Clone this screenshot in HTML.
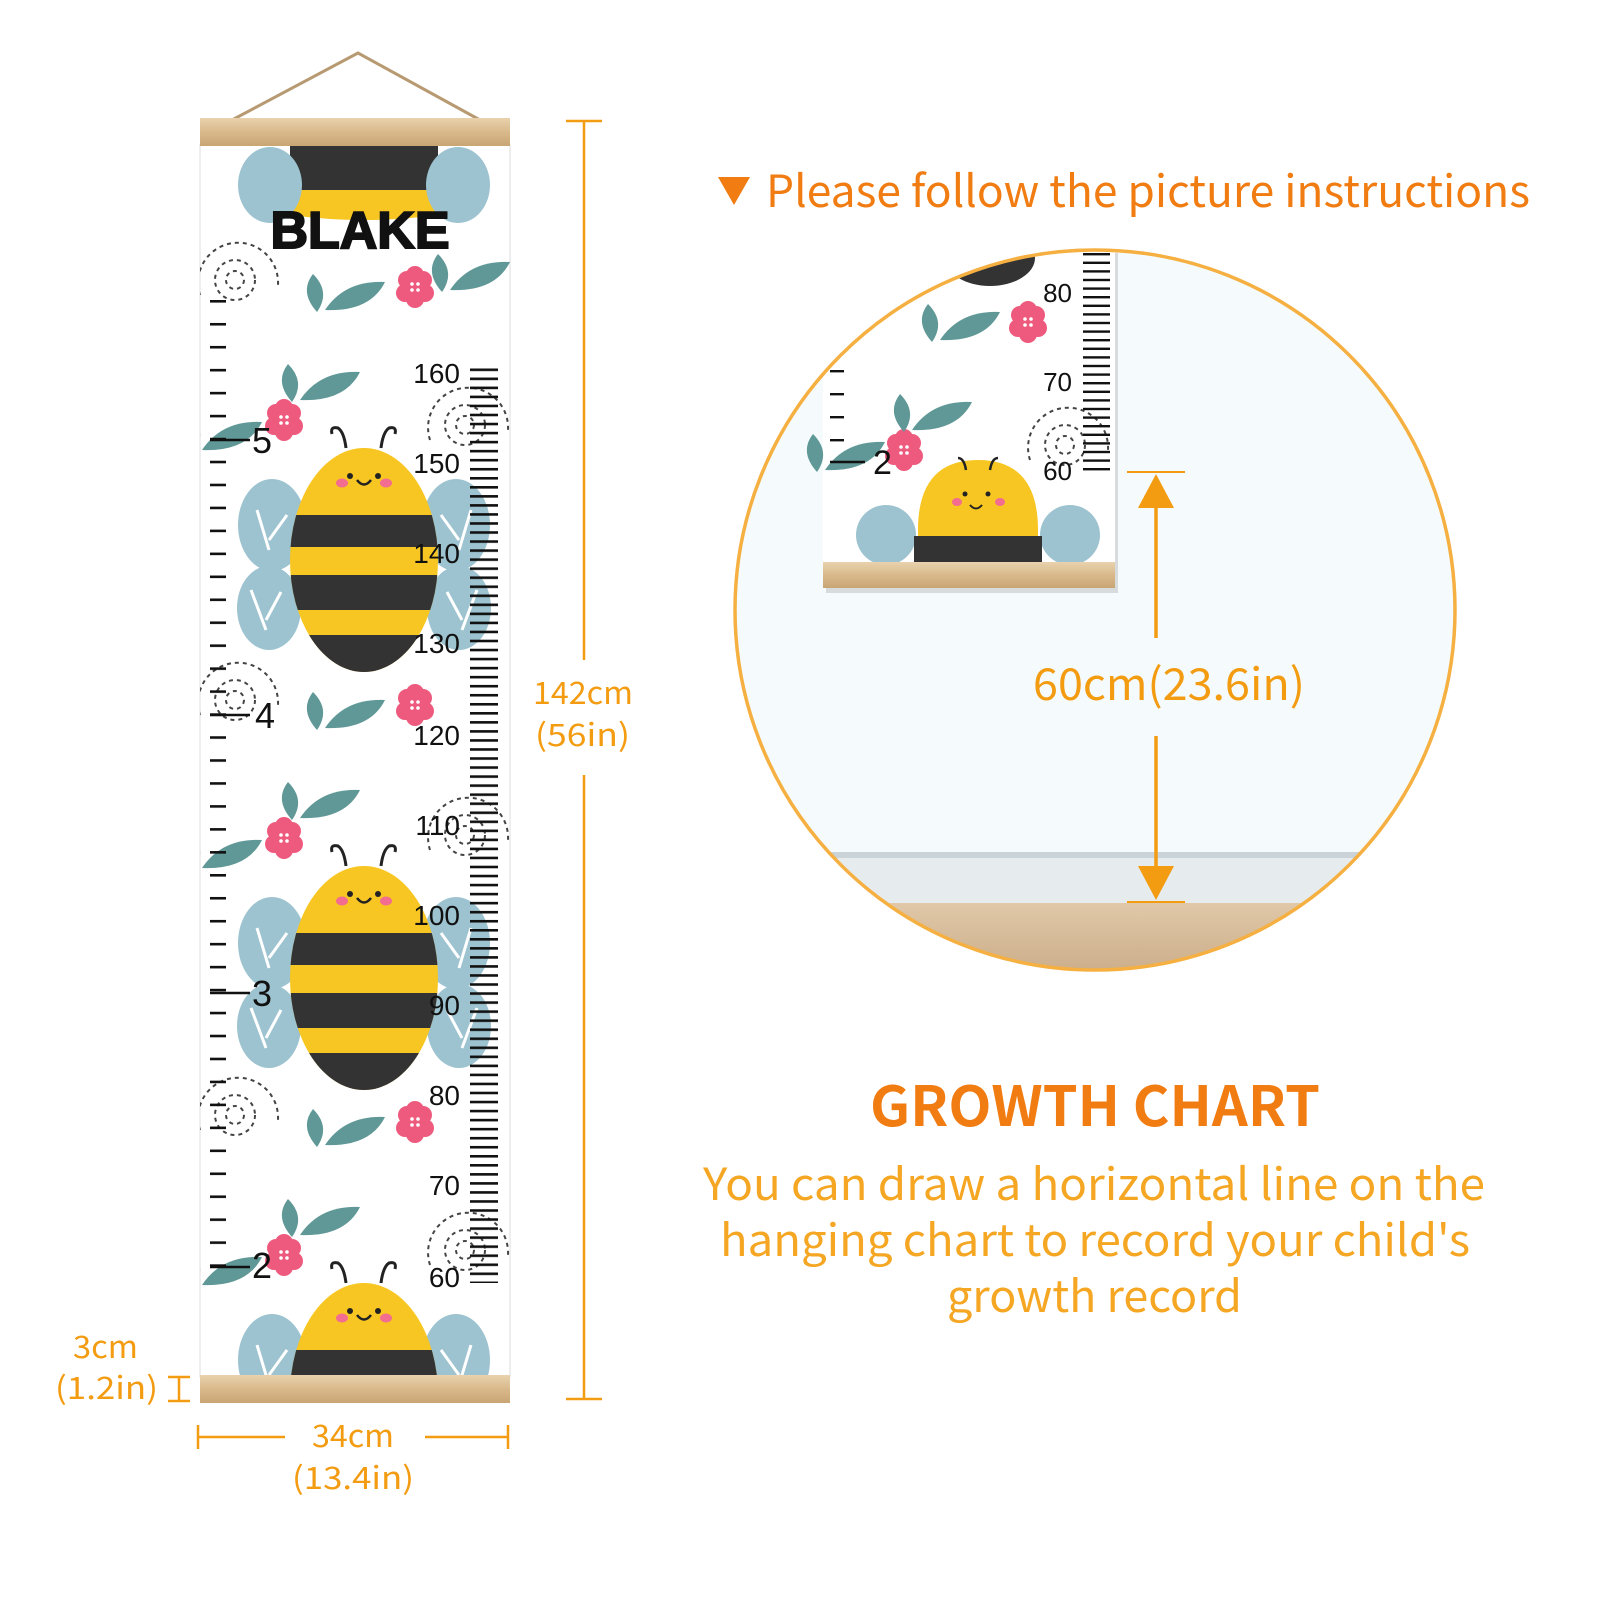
<!DOCTYPE html>
<html><head><meta charset="utf-8"><style>
html,body{margin:0;padding:0;background:#fff}
svg{display:block}
.o{font-family:"Noto Sans CJK SC","Liberation Sans",sans-serif}
</style></head><body>
<svg width="1600" height="1600" viewBox="0 0 1600 1600" xmlns="http://www.w3.org/2000/svg" font-family="Liberation Sans, sans-serif">
<defs>
<pattern id="cmT" x="0" y="368.5" width="40" height="9.04" patternUnits="userSpaceOnUse"><rect x="0" y="0" width="40" height="2.6" fill="#111"/></pattern>
<pattern id="inT" x="0" y="300" width="40" height="22.96" patternUnits="userSpaceOnUse"><rect x="0" y="0" width="40" height="2.6" fill="#111"/></pattern>
<pattern id="cmT2" x="0" y="253" width="40" height="8.6" patternUnits="userSpaceOnUse"><rect x="0" y="0" width="40" height="2.4" fill="#111"/></pattern>
<pattern id="inT2" x="0" y="370" width="40" height="23" patternUnits="userSpaceOnUse"><rect x="0" y="0" width="40" height="2.4" fill="#111"/></pattern>
<linearGradient id="wood" x1="0" y1="0" x2="0" y2="1"><stop offset="0" stop-color="#e9d2ad"/><stop offset="0.5" stop-color="#d9b98b"/><stop offset="1" stop-color="#c9a574"/></linearGradient>
<linearGradient id="floor" x1="0" y1="0" x2="0" y2="1"><stop offset="0" stop-color="#e0c8a8"/><stop offset="1" stop-color="#c9aa86"/></linearGradient>
<clipPath id="bodyc"><ellipse cx="0" cy="0" rx="74" ry="112"/></clipPath>
<clipPath id="chartc"><rect x="200" y="146" width="310" height="1230"/></clipPath>
<clipPath id="circc"><circle cx="1095" cy="610" r="360"/></clipPath>
<g id="bee">
  <ellipse cx="-92" cy="-35" rx="34" ry="46" fill="#9cc3cf"/>
  <ellipse cx="-95" cy="48" rx="32" ry="42" fill="#9cc3cf"/>
  <ellipse cx="92" cy="-35" rx="34" ry="46" fill="#9cc3cf"/>
  <ellipse cx="95" cy="48" rx="32" ry="42" fill="#9cc3cf"/>
  <path d="M-95 -10 l-12 -40 M-95 -20 l18 -25 M-98 70 l-15 -40 M-98 60 l15 -28 M95 -10 l12 -40 M95 -20 l-18 -25 M98 70 l15 -40 M98 60 l-15 -28" stroke="#fff" stroke-width="3" fill="none"/>
  <g clip-path="url(#bodyc)">
    <rect x="-80" y="-120" width="160" height="240" fill="#f7c623"/>
    <rect x="-80" y="-45" width="160" height="32" fill="#333"/>
    <rect x="-80" y="15" width="160" height="35" fill="#333"/>
    <rect x="-80" y="75" width="160" height="45" fill="#333"/>
  </g>
  <path d="M-18 -112 q-2 -16 -8 -20 q-8 -2 -6 6 M17 -112 q2 -16 8 -20 q8 -2 6 6" stroke="#222" stroke-width="3" fill="none"/>
  <circle cx="-14" cy="-84" r="3" fill="#222"/><circle cx="14" cy="-84" r="3" fill="#222"/>
  <ellipse cx="-22" cy="-77" rx="6" ry="4.5" fill="#f26d8f"/><ellipse cx="22" cy="-77" rx="6" ry="4.5" fill="#f26d8f"/>
  <path d="M-7 -80 q7 9 14 0" stroke="#222" stroke-width="2.5" fill="none"/>
</g>
<g id="flower">
  <circle cx="-8" cy="-7" r="9" fill="#ee5a7e"/><circle cx="8" cy="-7" r="9" fill="#ee5a7e"/><circle cx="-10" cy="6" r="9" fill="#ee5a7e"/><circle cx="10" cy="6" r="9" fill="#ee5a7e"/><circle cx="0" cy="12" r="9" fill="#ee5a7e"/><circle cx="0" cy="-12" r="9" fill="#ee5a7e"/><circle cx="0" cy="0" r="10" fill="#ee5a7e"/>
  <circle cx="-3" cy="-3" r="1.8" fill="#fff"/><circle cx="3" cy="-3" r="1.8" fill="#fff"/><circle cx="-3" cy="3" r="1.8" fill="#fff"/><circle cx="3" cy="3" r="1.8" fill="#fff"/>
</g>
<g id="leaves">
  <path d="M0 0 q20 -30 60 -28 q-15 30 -60 28z" fill="#5f9896"/>
  <path d="M-8 2 q-18 -20 -4 -38 q18 18 4 38z" fill="#5f9896"/>
</g>
<g id="spiral" fill="none" stroke="#444" stroke-width="2" stroke-dasharray="4 4">
  <path d="M-35 20 a40 40 0 1 1 78 -10"/><circle cx="0" cy="5" r="20"/><circle cx="0" cy="5" r="9"/>
</g>
</defs>

<path d="M232 120 L358 53 L480 120" stroke="#b89a72" stroke-width="3" fill="none"/>

<rect x="200" y="145" width="310" height="1232" fill="#fff" stroke="#ddd"/>
<g clip-path="url(#chartc)">
  <rect x="290" y="140" width="148" height="50" fill="#333"/>
  <path d="M290 190 h148 v25 q-74 10 -148 0z" fill="#f7c623"/>
  <ellipse cx="270" cy="185" rx="32" ry="38" fill="#9cc3cf"/><ellipse cx="458" cy="185" rx="32" ry="38" fill="#9cc3cf"/>
  <use href="#bee" x="364" y="560"/>
  <use href="#bee" x="364" y="978"/>
  <use href="#bee" x="364" y="1395"/>
  <use href="#flower" x="415" y="287"/><use href="#flower" x="284" y="420"/><use href="#flower" x="415" y="705"/><use href="#flower" x="284" y="838"/><use href="#flower" x="415" y="1122"/><use href="#flower" x="284" y="1255"/>
  <use href="#leaves" x="300" y="400"/><use href="#leaves" x="300" y="818"/><use href="#leaves" x="300" y="1235"/>
  <use href="#leaves" x="325" y="310"/><use href="#leaves" x="325" y="728"/><use href="#leaves" x="325" y="1145"/>
  <use href="#leaves" x="450" y="290"/><use href="#leaves" x="202" y="450"/><use href="#leaves" x="202" y="868"/><use href="#leaves" x="202" y="1285"/>
  <use href="#spiral" x="235" y="275"/><use href="#spiral" x="235" y="695"/><use href="#spiral" x="235" y="1110"/>
  <use href="#spiral" x="465" y="420"/><use href="#spiral" x="465" y="830"/><use href="#spiral" x="465" y="1245"/>
  <rect x="470" y="368" width="28" height="915" fill="url(#cmT)"/>
  <rect x="210" y="300" width="16" height="975" fill="url(#inT)"/>
</g>
<text x="360" y="248" font-size="52" font-weight="bold" text-anchor="middle" fill="#111" stroke="#111" stroke-width="2">BLAKE</text>
<g font-size="28" fill="#111" text-anchor="end">
<text x="460" y="383">160</text><text x="460" y="473">150</text><text x="460" y="563">140</text><text x="460" y="653">130</text><text x="460" y="745">120</text><text x="460" y="835">110</text><text x="460" y="925">100</text><text x="460" y="1015">90</text><text x="460" y="1105">80</text><text x="460" y="1195">70</text><text x="460" y="1287">60</text>
</g>
<g font-size="36" fill="#111">
<text x="252" y="453">5</text><text x="255" y="728">4</text><text x="252" y="1006">3</text><text x="252" y="1278">2</text>
</g>
<path d="M210 440 h40 M210 715 h40 M210 993 h40 M210 1267 h40" stroke="#111" stroke-width="2.6"/>
<rect x="200" y="118" width="310" height="28" fill="url(#wood)"/>
<rect x="200" y="1375" width="310" height="28" fill="url(#wood)"/>

<g stroke="#f39c12" stroke-width="2.5" fill="none">
<path d="M566 121 h36 M584 121 V660 M584 775 V1399 M566 1399 h36"/>
<path d="M198 1425 v24 M198 1437 H285 M425 1437 H508 M508 1425 v24"/>
<path d="M168 1377 h22 M168 1401 h22 M179 1377 v24"/>
</g>
<g fill="#f39c12" font-size="31" class="o">
<text x="533" y="704" textLength="100" lengthAdjust="spacingAndGlyphs">142cm</text>
<text x="535" y="746" textLength="95" lengthAdjust="spacingAndGlyphs">(56in)</text>
<text x="312" y="1447" textLength="82" lengthAdjust="spacingAndGlyphs">34cm</text>
<text x="292" y="1489" textLength="122" lengthAdjust="spacingAndGlyphs">(13.4in)</text>
<text x="73" y="1358" textLength="65" lengthAdjust="spacingAndGlyphs">3cm</text>
<text x="55" y="1399" textLength="103" lengthAdjust="spacingAndGlyphs">(1.2in)</text>
</g>

<path d="M718 177 h32 l-16 28z" fill="#f07c12"/>
<text x="766" y="207" font-size="44" fill="#f07c12" class="o" textLength="764" lengthAdjust="spacingAndGlyphs">Please follow the picture instructions</text>

<g clip-path="url(#circc)">
  <rect x="730" y="240" width="740" height="740" fill="#f5fafc"/>
  <rect x="730" y="852" width="740" height="6" fill="#c9d3d8"/>
  <rect x="730" y="858" width="740" height="45" fill="#e6ebee"/>
  <rect x="730" y="903" width="740" height="80" fill="url(#floor)"/>
  <rect x="826" y="253" width="292" height="340" fill="#000" opacity="0.12"/>
  <rect x="823" y="250" width="292" height="312" fill="#fff"/>
  <ellipse cx="990" cy="258" rx="45" ry="28" fill="#333"/>
  <ellipse cx="886" cy="535" rx="30" ry="30" fill="#9cc3cf"/><ellipse cx="1070" cy="535" rx="30" ry="30" fill="#9cc3cf"/>
  <path d="M918 562 V530 q0 -70 60 -70 q60 0 60 70 V562z" fill="#f7c623"/>
  <rect x="914" y="536" width="128" height="26" fill="#333"/>
  <circle cx="965" cy="494" r="2.5" fill="#222"/><circle cx="988" cy="494" r="2.5" fill="#222"/>
  <ellipse cx="957" cy="502" rx="5" ry="4" fill="#f26d8f"/><ellipse cx="1000" cy="502" rx="5" ry="4" fill="#f26d8f"/>
  <path d="M970 505 q6 7 12 0" stroke="#222" stroke-width="2" fill="none"/>
  <path d="M966 470 q-2 -12 -8 -12 M990 470 q2 -12 8 -12" stroke="#222" stroke-width="2.5" fill="none"/>
  <use href="#flower" x="1028" y="322"/>
  <use href="#flower" x="904" y="450"/>
  <use href="#leaves" x="940" y="340"/><use href="#leaves" x="912" y="430"/><use href="#leaves" x="825" y="470"/>
  <use href="#spiral" x="1065" y="440"/>
  <rect x="1083" y="253" width="27" height="218" fill="url(#cmT2)"/>
  <rect x="830" y="370" width="14" height="80" fill="url(#inT2)"/>
  <path d="M830 462 h35" stroke="#111" stroke-width="2.4"/>
  <g font-size="26" fill="#111" text-anchor="end"><text x="1072" y="302">80</text><text x="1072" y="391">70</text><text x="1072" y="480">60</text></g>
  <text x="873" y="474" font-size="34" fill="#111">2</text>
  <rect x="823" y="562" width="292" height="26" fill="url(#wood)"/>
</g>
<circle cx="1095" cy="610" r="360" fill="none" stroke="#f5b041" stroke-width="3.5"/>
<g stroke="#f39c12" stroke-width="3.5" fill="#f39c12">
<path d="M1127 472 h58 M1127 902 h58" stroke-width="2"/>
<path d="M1156 505 V638 M1156 736 V870"/>
<path d="M1156 474 l-18 34 h36z" stroke="none"/>
<path d="M1156 900 l-18 -34 h36z" stroke="none"/>
</g>
<text x="1033" y="700" font-size="44" fill="#f39c12" class="o" textLength="272" lengthAdjust="spacingAndGlyphs">60cm(23.6in)</text>

<text x="870" y="1126" font-size="55" font-weight="bold" fill="#f07c12" class="o" textLength="450" lengthAdjust="spacingAndGlyphs">GROWTH CHART</text>
<g font-size="44" fill="#f5a623" class="o">
<text x="703" y="1200" textLength="782" lengthAdjust="spacingAndGlyphs">You can draw a horizontal line on the</text>
<text x="720" y="1256" textLength="750" lengthAdjust="spacingAndGlyphs">hanging chart to record your child's</text>
<text x="947" y="1312" textLength="295" lengthAdjust="spacingAndGlyphs">growth record</text>
</g>
</svg>
</body></html>
